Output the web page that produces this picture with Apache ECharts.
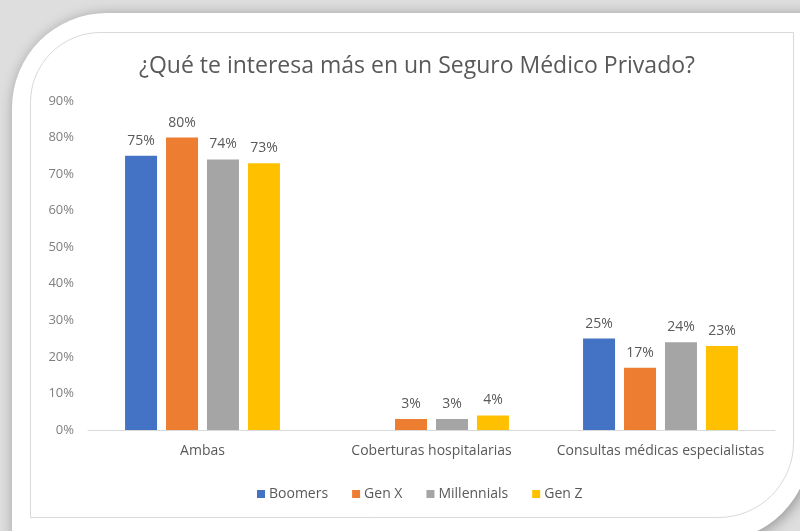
<!DOCTYPE html>
<html>
<head>
<meta charset="utf-8">
<style>
  html, body { margin: 0; padding: 0; background: #dedede; }
  #chart { width: 800px; height: 531px; }
</style>
<script src="https://cdn.jsdelivr.net/npm/echarts@6/dist/echarts.min.js"></script>
</head>
<body>
<div id="chart"></div>
<script>
// Survey: what interests each generation most in private health insurance
const categories = ['Ambas', 'Coberturas hospitalarias', 'Consultas médicas especialistas'];
const seriesNames = ['Boomers', 'Gen X', 'Millennials', 'Gen Z'];
const boomers = [75, null, 25];
const genX = [80, 3, 17];
const millennials = [74, 3, 24];
const genZ = [73, 4, 23];
const colors = ['#4472C4', '#ED7D31', '#A5A5A5', '#FFC000'];
const titleText = '¿Qué te interesa más en un Seguro Médico Privado?';

const values = [boomers, genX, millennials, genZ];
const font = 'Open Sans, DejaVu Sans, sans-serif';
const textGray = '#595959';

const chart = echarts.init(document.getElementById('chart'), null, { renderer: 'canvas' });

chart.setOption({
  animation: false,
  backgroundColor: 'transparent',
  graphic: [
    {
      // white card with rounded top-left and bottom-right corners
      type: 'rect',
      z: -10,
      shape: { x: 12, y: 13, width: 798, height: 528, r: [95, 0, 95, 0] },
      style: {
        fill: '#ffffff',
        shadowBlur: 14,
        shadowColor: 'rgba(0,0,0,0.35)',
        shadowOffsetX: 2,
        shadowOffsetY: 2
      }
    },
    {
      // chart area frame
      type: 'rect',
      z: -8,
      shape: { x: 30.5, y: 32.5, width: 763, height: 485, r: [70, 0, 75, 0] },
      style: { fill: '#ffffff', stroke: '#d9d9d9', lineWidth: 1 }
    }
  ],
  title: {
    text: titleText,
    left: 412,
    textAlign: 'center',
    top: 50,
    textStyle: { fontFamily: font, fontSize: 23, fontWeight: 'normal', color: textGray }
  },
  legend: {
    data: seriesNames,
    top: 482,
    left: 252,
    icon: 'rect',
    itemWidth: 8,
    itemHeight: 8,
    itemGap: 24,
    textStyle: { fontFamily: font, fontSize: 14, color: textGray, padding: [0, 0, 0, -1] }
  },
  grid: { left: 88, right: 25, top: 101, bottom: 101, containLabel: false },
  xAxis: {
    type: 'category',
    data: categories,
    axisLine: { lineStyle: { color: '#d9d9d9' } },
    axisTick: { show: false },
    axisLabel: { fontFamily: font, fontSize: 14, color: textGray, margin: 14, interval: 0 }
  },
  yAxis: {
    type: 'value',
    min: 0,
    max: 90,
    interval: 10,
    axisLine: { show: false },
    axisTick: { show: false },
    splitLine: { show: false },
    axisLabel: { fontFamily: font, fontSize: 13, color: '#7f7f7f', margin: 14, formatter: '{value}%' }
  },
  series: seriesNames.map((name, i) => ({
    name: name,
    type: 'bar',
    data: values[i],
    barWidth: 32,
    barGap: '28%',
    itemStyle: { color: colors[i] },
    label: {
      show: true,
      position: 'top',
      distance: 8,
      fontFamily: font,
      fontSize: 14,
      color: textGray,
      formatter: p => (p.value == null ? '' : p.value + '%')
    }
  }))
});
</script>
</body>
</html>
